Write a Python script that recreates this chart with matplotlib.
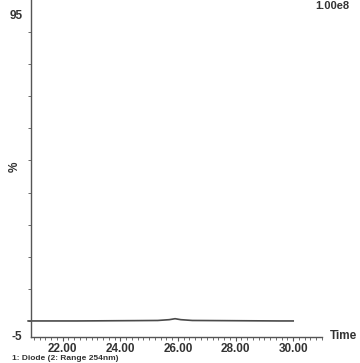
import matplotlib
matplotlib.use("Agg")
import matplotlib.pyplot as plt
from matplotlib.ticker import MultipleLocator, FixedLocator, FormatStrFormatter, NullFormatter

# data
time = [20.8, 21.5, 22.5, 23.5, 24.5, 25.3, 25.7, 25.9, 26.1, 26.5, 27.5, 28.5, 29.5, 30.0]
signal = [0.0, 0.0, 0.0, 0.05, 0.1, 0.15, 0.4, 0.7, 0.4, 0.15, 0.1, 0.05, 0.0, 0.0]
xticks = [22, 24, 26, 28, 30]
yticks_minor = [0, 10, 20, 30, 40, 50, 60, 70, 80, 90]
ylabels = {95: "95", -5: "-5"}
scale_text = "1.00e8"
footer = "1: Diode (2: Range 254nm)"

col = "#333333"
fnt = "Liberation Sans"
fig = plt.figure(figsize=(3.6, 3.63), dpi=100)
ax = fig.add_axes([31/360, 26/363, (322-31)/360, (363-26)/363])
ax.plot(time, signal, color="#4a4a4a", lw=1.2, clip_on=False)
ax.set_xlim(20.9, 31.0)
ax.set_ylim(-5, 100)
for s in ["top", "right"]:
    ax.spines[s].set_visible(False)
for s in ["left", "bottom"]:
    ax.spines[s].set_color("#555555")
    ax.spines[s].set_linewidth(1.0)

ax.xaxis.set_major_locator(FixedLocator(xticks))
ax.xaxis.set_major_formatter(FormatStrFormatter("%.2f"))
ax.xaxis.set_minor_locator(MultipleLocator(0.2))
ax.tick_params(axis="x", which="major", length=3, width=0.8, color="#555555", direction="out",
               labelsize=8.5, labelcolor=col, pad=1.5)
ax.tick_params(axis="x", which="minor", length=2, width=0.6, color="#555555", direction="out")
for lab in ax.get_xticklabels():
    lab.set_fontweight("bold")
    lab.set_fontfamily(fnt)

ax.yaxis.set_major_locator(FixedLocator(yticks_minor))
ax.yaxis.set_major_formatter(NullFormatter())
ax.tick_params(axis="y", which="major", length=2, width=0.6, color="#555555", direction="out")

for v, t in ylabels.items():
    ax.text(-0.03, v, t, transform=ax.get_yaxis_transform(), ha="right", va="center",
            fontsize=8.5, fontweight="bold", color=col, family=fnt)
ax.text(-0.035, 48, "%", transform=ax.get_yaxis_transform(), ha="right", va="center",
        fontsize=8.5, fontweight="bold", color=col, rotation=90, family=fnt)
fig.text(343/360, 1 - 336/363, "Time", ha="center", va="center", fontsize=8.5,
         fontweight="bold", color=col, family=fnt)
fig.text(332/360, 1 - 6/363, scale_text, ha="center", va="center", fontsize=8,
         fontweight="bold", color=col, family=fnt)
fig.text(12/360, 1 - 358.5/363, footer, ha="left", va="center", fontsize=6,
         fontweight="bold", color=col, family=fnt)

fig.savefig("out.png", dpi=100, facecolor="white")
